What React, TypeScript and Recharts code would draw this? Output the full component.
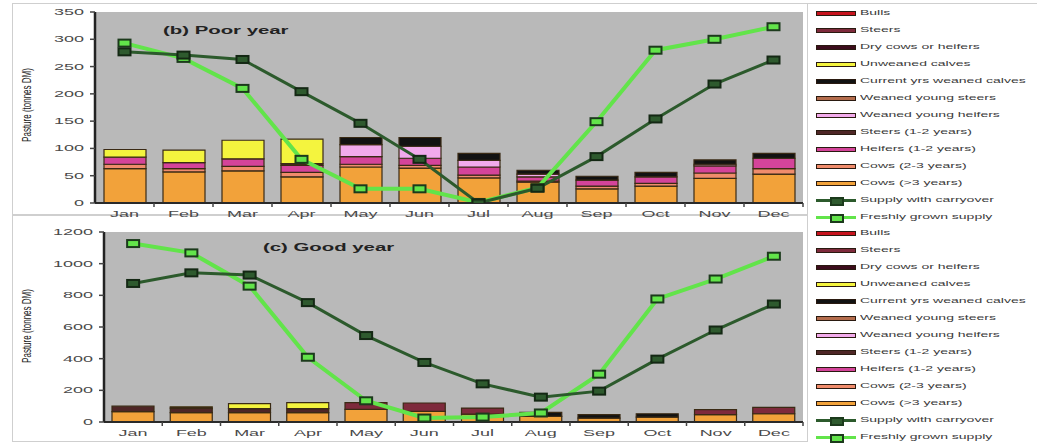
import { ComposedChart, Bar, Line, XAxis, YAxis, CartesianGrid } from 'recharts'

const months = ['Jan', 'Feb', 'Mar', 'Apr', 'May', 'Jun', 'Jul', 'Aug', 'Sep', 'Oct', 'Nov', 'Dec']

// (b) Poor year, tonnes DM
const poorCowsOver3 = [63, 57, 59, 48, 66, 64, 46, 38, 26, 31, 45, 53]
const poorCows2to3 = [8, 6, 8, 8, 5, 5, 5, 2, 5, 5, 10, 10]
const poorHeifers1to2 = [13, 11, 14, 13, 14, 13, 15, 8, 11, 12, 13, 19]
const poorSteers1to2 = [0, 0, 0, 3, 0, 0, 0, 0, 0, 0, 0, 0]
const poorWeanedHeifers = [0, 0, 0, 0, 22, 22, 12, 5, 0, 0, 3, 0]
const poorWeanedSteers = [0, 0, 0, 0, 0, 0, 0, 0, 0, 0, 0, 0]
const poorCurrentWeaned = [0, 0, 0, 0, 13, 16, 13, 7, 7, 8, 8, 9]
const poorUnweaned = [14, 23, 34, 45, 0, 0, 0, 0, 0, 0, 0, 0]
const poorDryCows = [0, 0, 0, 0, 0, 0, 0, 0, 0, 0, 0, 0]
const poorSteers = [0, 0, 0, 0, 0, 0, 0, 0, 0, 0, 0, 0]
const poorBulls = [0, 0, 0, 0, 0, 0, 0, 0, 0, 0, 0, 0]
const poorCarryover = [277, 271, 263, 204, 146, 80, 0, 27, 85, 154, 218, 262]
const poorFresh = [293, 265, 210, 80, 26, 26, 1, 28, 149, 280, 300, 323]

// (c) Good year, tonnes DM
const goodCowsOver3 = [65, 59, 59, 59, 80, 67, 50, 36, 25, 31, 46, 52]
const goodCows2to3 = [0, 0, 0, 0, 0, 0, 0, 0, 0, 0, 0, 0]
const goodHeifers1to2 = [0, 0, 0, 0, 0, 0, 0, 0, 0, 0, 0, 0]
const goodSteers1to2 = [35, 29, 25, 25, 0, 0, 0, 0, 0, 0, 0, 0]
const goodWeanedHeifers = [0, 0, 0, 0, 0, 0, 0, 0, 0, 0, 0, 0]
const goodWeanedSteers = [0, 0, 0, 0, 0, 0, 0, 0, 0, 0, 0, 0]
const goodCurrentWeaned = [0, 0, 0, 0, 0, 0, 0, 25, 21, 21, 0, 0]
const goodUnweaned = [0, 8, 32, 38, 0, 0, 0, 0, 0, 0, 0, 0]
const goodDryCows = [0, 0, 0, 0, 0, 0, 0, 0, 0, 0, 0, 0]
const goodSteers = [0, 0, 0, 0, 42, 53, 38, 0, 0, 0, 32, 40]
const goodBulls = [0, 0, 0, 0, 0, 0, 0, 0, 0, 0, 0, 0]
const goodCarryover = [875, 942, 928, 754, 546, 376, 241, 157, 195, 397, 581, 745]
const goodFresh = [1127, 1068, 858, 409, 134, 25, 31, 57, 302, 777, 903, 1047]

const poorTicks = [0, 50, 100, 150, 200, 250, 300, 350]
const goodTicks = [0, 200, 400, 600, 800, 1000, 1200]

// stacking order, bottom to top
const stackSeries = [
  { key: 'cowsOver3', name: 'Cows (>3 years)', color: '#f2a23a' },
  { key: 'cows2to3', name: 'Cows  (2-3 years)', color: '#f08c6c' },
  { key: 'heifers1to2', name: 'Heifers (1-2 years)', color: '#d4449a' },
  { key: 'steers1to2', name: 'Steers (1-2 years)', color: '#4e2626' },
  { key: 'weanedHeifers', name: 'Weaned young heifers', color: '#f2aaec' },
  { key: 'weanedSteers', name: 'Weaned young steers', color: '#b46c4c' },
  { key: 'currentWeaned', name: 'Current yrs weaned calves', color: '#121212' },
  { key: 'unweaned', name: 'Unweaned calves', color: '#f4f43e' },
  { key: 'dryCows', name: 'Dry cows or heifers', color: '#3c0c1c' },
  { key: 'steers', name: 'Steers', color: '#7e2a3c' },
  { key: 'bulls', name: 'Bulls', color: '#c8141e' },
]

const CARRY = '#2c5a2c'
const FRESH = '#62e44a'

function buildRows(cols: Record<string, number[]>) {
  return months.map((m, i) => {
    const row: Record<string, any> = { month: m }
    Object.keys(cols).forEach((k) => { row[k] = cols[k][i] })
    return row
  })
}

const poorData = buildRows({
  cowsOver3: poorCowsOver3, cows2to3: poorCows2to3, heifers1to2: poorHeifers1to2,
  steers1to2: poorSteers1to2, weanedHeifers: poorWeanedHeifers, weanedSteers: poorWeanedSteers,
  currentWeaned: poorCurrentWeaned, unweaned: poorUnweaned, dryCows: poorDryCows,
  steers: poorSteers, bulls: poorBulls, carryover: poorCarryover, fresh: poorFresh,
})

const goodData = buildRows({
  cowsOver3: goodCowsOver3, cows2to3: goodCows2to3, heifers1to2: goodHeifers1to2,
  steers1to2: goodSteers1to2, weanedHeifers: goodWeanedHeifers, weanedSteers: goodWeanedSteers,
  currentWeaned: goodCurrentWeaned, unweaned: goodUnweaned, dryCows: goodDryCows,
  steers: goodSteers, bulls: goodBulls, carryover: goodCarryover, fresh: goodFresh,
})

const FONT = 'Arial, "Liberation Sans", sans-serif'

function YTick(props: any) {
  const { x, y, payload } = props
  return (
    <g transform={`translate(${x},${y})`}>
      <text transform="scale(2,1)" textAnchor="end" dy={3} fontSize={9} fill="#4a4a4a" fontFamily={FONT}>
        {payload.value}
      </text>
    </g>
  )
}

function makeXTick(band: number) {
  return function XTick(props: any) {
    const { x, y, payload } = props
    return (
      <g transform={`translate(${x},${y})`}>
        <line x1={band / 2} x2={band / 2} y1={0} y2={4} stroke="#444" strokeWidth={1.5} />
        <text transform="scale(2,1)" textAnchor="middle" dy={14} fontSize={9} fill="#4a4a4a" fontFamily={FONT}>
          {payload.value}
        </text>
      </g>
    )
  }
}

function squareDot(fill: string, stroke: string) {
  return (p: any) => {
    if (p.cx == null || p.cy == null) return <g key={p.key} />
    return <rect key={p.key} x={p.cx - 6} y={p.cy - 3.5} width={12} height={7} fill={fill} stroke={stroke} strokeWidth={2} />
  }
}

interface PanelProps {
  data: any[]
  top: number
  height: number
  yWidth: number
  marginTop: number
  xHeight: number
  domainMax: number
  ticks: number[]
}

function Panel({ data, top, height, yWidth, marginTop, xHeight, domainMax, ticks }: PanelProps) {
  const width = 806
  const band = (width - yWidth - 3) / months.length
  return (
    <div style={{ position: 'absolute', left: 0, top }}>
      <ComposedChart width={width} height={height} data={data} margin={{ top: marginTop, right: 3, bottom: 0, left: 0 }}>
        <CartesianGrid fill="#b9b9b9" stroke="transparent" />
        <XAxis
          dataKey="month"
          height={xHeight}
          tickSize={0}
          tickMargin={0}
          tickLine={false}
          axisLine={{ stroke: '#2a2a2a', strokeWidth: 2 }}
          tick={makeXTick(band)}
          interval={0}
        />
        <YAxis
          width={yWidth}
          domain={[0, domainMax]}
          ticks={ticks}
          tickSize={5}
          tickMargin={6}
          tickLine={{ stroke: '#444', strokeWidth: 1.5 }}
          axisLine={{ stroke: '#222', strokeWidth: 2.5 }}
          tick={<YTick />}
          allowDataOverflow
        />
        {stackSeries.map((s) => (
          <Bar
            key={s.key}
            dataKey={s.key}
            name={s.name}
            stackId="herd"
            fill={s.color}
            stroke="#3a2a14"
            strokeWidth={1.2}
            barSize={42}
            isAnimationActive={false}
          />
        ))}
        <Line
          dataKey="fresh"
          name="Freshly grown supply"
          stroke={FRESH}
          strokeWidth={4}
          dot={squareDot(FRESH, '#1c3a1c')}
          activeDot={false}
          isAnimationActive={false}
        />
        <Line
          dataKey="carryover"
          name="Supply with carryover"
          stroke={CARRY}
          strokeWidth={3}
          dot={squareDot('#2e5a2e', '#142814')}
          activeDot={false}
          isAnimationActive={false}
        />
      </ComposedChart>
    </div>
  )
}

const legendItems = [...stackSeries].reverse()

function LegendBlock({ top }: { top: number }) {
  const rows = [
    ...legendItems.map((s) => ({ name: s.name, color: s.color, line: false })),
    { name: 'Supply with carryover', color: CARRY, line: true },
    { name: 'Freshly grown supply', color: FRESH, line: true },
  ]
  return (
    <div style={{ position: 'absolute', left: 816, top, width: 221, overflow: 'hidden', height: 222 }}>
      {rows.map((r, i) => (
        <div key={r.name} style={{ position: 'absolute', left: 0, top: i * 17, height: 10, width: 221 }}>
          {r.line ? (
            <div style={{ position: 'absolute', left: 0, top: 3, width: 40, height: 4 }}>
              <div style={{ position: 'absolute', left: 0, top: 0, width: 40, height: 3, background: r.color }} />
              <div style={{ position: 'absolute', left: 14, top: -2, width: 10, height: 5, background: r.color === FRESH ? FRESH : '#2e5a2e', border: '2px solid #1c3a1c' }} />
            </div>
          ) : (
            <div style={{ position: 'absolute', left: 0, top: 2, width: 38, height: 3, background: r.color, border: '1px solid #2a1a10' }} />
          )}
          <div
            style={{
              position: 'absolute', left: 44, top: -1, fontSize: 8, fontFamily: FONT, color: '#3a3a3a',
              whiteSpace: 'nowrap', transform: 'scaleX(1.75)', transformOrigin: 'left center', lineHeight: '10px',
            }}
          >
            {r.name}
          </div>
        </div>
      ))}
    </div>
  )
}

function Title({ text, left, top }: { text: string, left: number, top: number }) {
  return (
    <div style={{
      position: 'absolute', left, top, fontSize: 11, fontWeight: 700, fontFamily: FONT, color: '#222',
      whiteSpace: 'nowrap', transform: 'scaleX(1.85)', transformOrigin: 'left center', lineHeight: '12px',
    }}>
      {text}
    </div>
  )
}

function YLabel({ cx, cy }: { cx: number, cy: number }) {
  return (
    <div style={{
      position: 'absolute', left: cx - 60, top: cy - 5, width: 120, textAlign: 'center', fontSize: 8,
      fontFamily: FONT, color: '#222', lineHeight: '10px', whiteSpace: 'nowrap',
      transform: 'scaleX(1.6) rotate(-90deg)', transformOrigin: 'center center',
    }}>
      Pasture (tonnes DM)
    </div>
  )
}

export default function App() {
  return (
    <div style={{ position: 'absolute', left: 0, top: 0, width: 1037, height: 445, background: '#fff', overflow: 'hidden' }}>
      <div style={{ position: 'absolute', left: 12, top: 3, width: 796, height: 212, border: '1px solid #cfcfcf', boxSizing: 'border-box' }} />
      <div style={{ position: 'absolute', left: 12, top: 215, width: 796, height: 227, border: '1px solid #cfcfcf', boxSizing: 'border-box' }} />
      <div style={{ position: 'absolute', left: 808, top: 3, width: 229, height: 1, background: '#cfcfcf' }} />
      <Panel data={poorData} top={0} height={230} yWidth={95} marginTop={12} xHeight={27} domainMax={350} ticks={poorTicks} />
      <Panel data={goodData} top={215} height={230} yWidth={104} marginTop={17} xHeight={23} domainMax={1200} ticks={goodTicks} />
      <Title text="(b) Poor year" left={163} top={24} />
      <Title text="(c) Good year" left={263} top={241} />
      <YLabel cx={28} cy={105} />
      <YLabel cx={28} cy={326} />
      <LegendBlock top={9} />
      <LegendBlock top={229} />
    </div>
  )
}
